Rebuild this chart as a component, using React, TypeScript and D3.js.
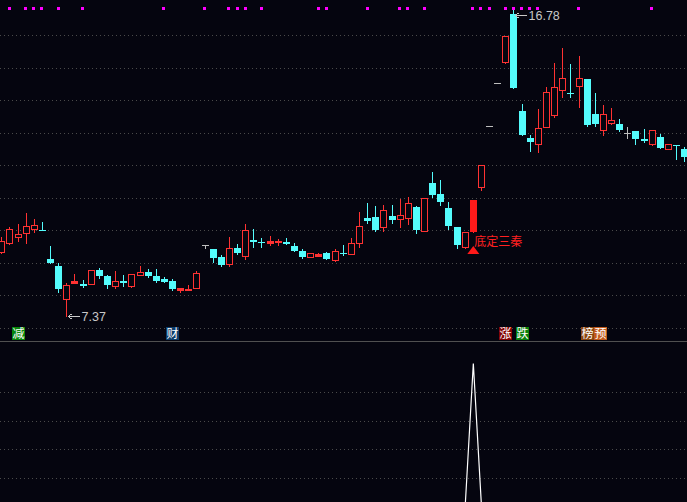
import React from "react";
import * as d3 from "d3";

// daily K-line (85 sessions)
const opens = [
  9.33, 9.6, 9.8, 9.91, 10.05, 10.01, 9.12, 8.9, 7.88, 8.39,
  8.35, 8.34, 8.78, 8.59, 8.3, 8.45, 8.3, 8.64, 8.71, 8.59,
  8.51, 8.44, 8.17, 8.19, 8.24, 9.54, 9.42, 9.17, 8.98, 9.45,
  9.22, 9.7, 9.65, 9.6, 9.67, 9.65, 9.53, 9.37, 9.19, 9.22,
  9.29, 9.1, 9.31, 9.26, 9.6, 10.38, 10.41, 10.11, 10.44, 10.36,
  10.39, 10.72, 9.99, 11.45, 11.12, 10.69, 10.1, 9.5, 9.99, 11.34,
  13.2, 14.52, 15.18, 16.64, 13.67, 12.85, 12.64, 13.16, 13.55, 14.3,
  14.22, 14.44, 14.65, 13.57, 13.07, 13.31, 13.27, 13.0, 13.06, 12.81,
  12.66, 12.88, 12.49, 12.62, 12.5,
];
const highs = [
  9.8, 10.11, 10.19, 10.53, 10.35, 10.26, 9.52, 8.99, 8.37, 8.66,
  8.47, 8.77, 8.84, 8.63, 8.75, 8.63, 8.65, 8.9, 8.81, 8.81,
  8.57, 8.51, 8.23, 8.32, 8.75, 9.54, 9.42, 9.24, 9.8, 9.58,
  10.19, 10.04, 9.76, 9.83, 9.74, 9.76, 9.6, 9.43, 9.29, 9.31,
  9.33, 9.43, 9.55, 9.76, 10.56, 10.84, 10.75, 10.78, 10.78, 10.96,
  11.02, 10.75, 10.98, 11.79, 11.55, 10.87, 10.1, 9.94, 10.93, 12.01,
  13.2, 14.52, 15.97, 16.78, 13.88, 12.93, 13.73, 14.39, 15.14, 15.6,
  15.11, 15.35, 14.65, 14.22, 13.85, 13.76, 13.42, 13.17, 13.06, 13.11,
  13.08, 12.95, 12.65, 12.62, 12.57,
];
const lows = [
  9.3, 9.57, 9.68, 9.62, 9.96, 10.0, 9.01, 8.11, 7.37, 8.39,
  8.27, 8.34, 8.55, 8.24, 8.24, 8.3, 8.26, 8.64, 8.56, 8.42,
  8.42, 8.17, 8.11, 8.19, 8.24, 9.46, 9.04, 8.9, 8.9, 9.28,
  9.13, 9.5, 9.5, 9.56, 9.56, 9.57, 9.37, 9.16, 9.19, 9.21,
  9.13, 9.07, 9.25, 9.26, 9.5, 10.22, 9.99, 9.99, 10.23, 10.11,
  10.2, 9.93, 9.99, 11.03, 10.79, 10.05, 9.47, 9.45, 9.96, 11.24,
  13.2, 14.52, 15.15, 14.38, 12.94, 12.45, 12.42, 13.16, 13.47, 14.09,
  14.09, 13.8, 13.21, 13.21, 12.94, 13.28, 13.05, 12.85, 12.66, 12.71,
  12.61, 12.53, 12.49, 12.2, 12.14,
];
const closes = [
  9.67, 10.03, 9.89, 10.12, 10.15, 10.0, 9.01, 8.2, 8.31, 8.44,
  8.3, 8.77, 8.61, 8.33, 8.43, 8.39, 8.65, 8.71, 8.6, 8.45,
  8.42, 8.2, 8.23, 8.2, 8.68, 9.54, 9.16, 8.94, 9.46, 9.31,
  10.0, 9.65, 9.64, 9.66, 9.68, 9.59, 9.37, 9.19, 9.29, 9.27,
  9.13, 9.37, 9.3, 9.6, 10.12, 10.3, 10.01, 10.62, 10.32, 10.46,
  10.83, 10.01, 10.98, 11.09, 10.87, 10.14, 9.55, 9.94, 10.93, 12.01,
  13.2, 14.52, 15.97, 14.38, 12.94, 12.72, 13.13, 14.24, 14.39, 14.67,
  14.21, 14.67, 13.24, 13.28, 13.57, 13.38, 13.08, 13.0, 12.81, 12.74,
  13.08, 12.53, 12.65, 12.61, 12.26,
];

// magenta marks along the top edge
const markDays = [1, 3, 4, 5, 7, 10, 20, 25, 28, 29, 30, 32, 39, 40, 45, 49, 50, 52, 58, 59, 60, 62, 63, 64, 65, 66, 71, 80];

// event tags at the bottom of the price panel
const tagDays = [2, 21, 62, 64, 72, 72];
const tagTexts = ["减", "财", "涨", "跌", "榜", "预"];

// buy signal
const signalDay = 58;
const signalText = "底定三秦";

// lower panel indicator
const signalLine = [
  0, 0, 0, 0, 0, 0, 0, 0, 0, 0,
  0, 0, 0, 0, 0, 0, 0, 0, 0, 0,
  0, 0, 0, 0, 0, 0, 0, 0, 0, 0,
  0, 0, 0, 0, 0, 0, 0, 0, 0, 0,
  0, 0, 0, 0, 0, 0, 0, 0, 0, 0,
  0, 0, 0, 0, 0, 0, 0, 0, 125, 0,
  0, 0, 0, 0, 0, 0, 0, 0, 0, 0,
  0, 0, 0, 0, 0, 0, 0, 0, 0, 0,
  0, 0, 0, 0, 0,
];

const W = 687;
const H = 502;
const BG = "#05050f";
const RED = "#ff3232";
const CYAN = "#54fcfc";
const GRAY = "#bdbdbd";
const GRID = "#4a4a4a";
const tagColors: Record<string, string> = {
  减: "#07860b",
  财: "#0c3c6a",
  涨: "#820404",
  跌: "#07800b",
  榜: "#8a4612",
  预: "#c25a1c",
};

const App: React.FC = () => {
  const n = closes.length;
  const x = d3.scaleLinear().domain([0, n - 1]).range([1.8, 684.7]);
  const y = d3.scaleLinear().domain([7, 16]).range([328, 35]);
  const yInd = d3.scaleLinear().domain([0, 100]).range([506, 392]);

  const priceGrid = d3.range(7, 17);
  const indGrid = [25, 50, 75, 100];

  const hiIdx = d3.maxIndex(highs);
  const loIdx = d3.minIndex(lows);

  const line = d3
    .line<number>()
    .x((_, i) => x(i))
    .y((d) => yInd(d));

  // every candle part is a whole-pixel rect so nothing gets blurred
  const candles = closes.map((c, i) => {
    const o = opens[i];
    const left = Math.round(x(i) - 3.5);
    const mid = left + 3;
    const yh = Math.round(y(highs[i]));
    const yl = Math.round(y(lows[i]));
    const yo = Math.round(y(o));
    const yc = Math.round(y(c));
    const wick = (col: string, a: number, b: number, k: string) =>
      b > a ? <rect key={k} x={mid} y={a} width={1} height={b - a} fill={col} /> : null;

    if (o === c) {
      return (
        <g key={i}>
          {wick(GRAY, yh, yl + 1, "w")}
          <rect x={left} y={yo} width={7} height={1} fill={GRAY} />
        </g>
      );
    }
    if (c > o) {
      const top = yc;
      const bot = Math.max(yo, yc + 1);
      if (i === signalDay || bot - top <= 2) {
        return (
          <g key={i}>
            {wick(RED, yh, yl + 1, "w")}
            <rect x={left} y={top} width={7} height={bot - top + 1} fill={i === signalDay ? "#ff1a1a" : RED} />
          </g>
        );
      }
      return (
        <g key={i}>
          {wick(RED, yh, top, "a")}
          {wick(RED, bot + 1, yl + 1, "b")}
          <rect x={left} y={top} width={7} height={bot - top + 1} fill={RED} />
          <rect x={left + 1} y={top + 1} width={5} height={bot - top - 1} fill={BG} />
        </g>
      );
    }
    const top = yo;
    const bot = Math.max(yc, yo + 1);
    return (
      <g key={i}>
        {wick(CYAN, yh, yl + 1, "w")}
        <rect x={left} y={top} width={7} height={bot - top} fill={CYAN} />
      </g>
    );
  });

  const priceNote = (i: number, v: number, minY: number) => {
    const tip = Math.round(x(i)) + 1.5;
    const ly = Math.max(Math.round(y(v)), minY) + 0.5;
    return (
      <g key={"note" + i} stroke="#c8c8c8" fill="none">
        <path d={`M${tip},${ly}H${tip + 11}M${tip + 3},${ly - 2.5}L${tip},${ly}L${tip + 3},${ly + 2.5}`} />
        <text
          x={tip + 13}
          y={ly + 4.5}
          fill="#c8c8c8"
          stroke="none"
          fontSize={12.5}
          fontFamily="'Liberation Sans', Arial, sans-serif"
        >
          {v.toFixed(2)}
        </text>
      </g>
    );
  };

  const sx = x(signalDay);
  const sy = Math.round(y(lows[signalDay])) + 14;

  const slotCount: Record<number, number> = {};

  return (
    <svg
      width={W}
      height={H}
      style={{ position: "fixed", left: 0, top: 0, display: "block", background: BG }}
      shapeRendering="crispEdges"
    >
      <rect width={W} height={H} fill={BG} />

      {priceGrid.map((p) => (
        <line key={"g" + p} x1={0} x2={W} y1={Math.round(y(p)) + 0.5} y2={Math.round(y(p)) + 0.5} stroke={GRID} strokeDasharray="1,3" />
      ))}
      {indGrid.map((v) => (
        <line key={"ig" + v} x1={0} x2={W} y1={Math.round(yInd(v)) + 0.5} y2={Math.round(yInd(v)) + 0.5} stroke={GRID} strokeDasharray="1,3" />
      ))}
      <rect x={0} y={341} width={W} height={1} fill="#505050" />

      {markDays.map((d) => (
        <rect key={"m" + d} x={Math.round(x(d)) - 2} y={7} width={3} height={3} fill="#ff00ff" />
      ))}

      {candles}

      {priceNote(hiIdx, highs[hiIdx], 15)}
      {priceNote(loIdx, lows[loIdx], 15)}

      <g>
        <path d={`M${sx},${sy}L${sx + 6},${sy + 8}L${sx - 6},${sy + 8}Z`} fill="#ff1a1a" shapeRendering="auto" />
        <text x={sx + 1} y={sy} fill="#ff2020" fontSize={12} fontFamily="'Noto Sans CJK SC', sans-serif">
          {signalText}
        </text>
      </g>

      {tagDays.map((d, k) => {
        const slot = slotCount[d] || 0;
        slotCount[d] = slot + 1;
        const left = Math.round(x(d) - 6.5) + slot * 13;
        const t = tagTexts[k];
        return (
          <g key={"t" + k}>
            <rect x={left} y={327} width={13} height={13} fill={tagColors[t]} />
            <text
              x={left + 6.5}
              y={338}
              textAnchor="middle"
              fill="#ffffff"
              fontSize={12}
              fontFamily="'Noto Sans CJK SC', sans-serif"
            >
              {t}
            </text>
          </g>
        );
      })}

      <clipPath id="lowerPanel">
        <rect x={0} y={342} width={W} height={H - 342} />
      </clipPath>
      <path d={line(signalLine) || ""} fill="none" stroke="#ffffff" strokeWidth={1.2} clipPath="url(#lowerPanel)" shapeRendering="auto" />
    </svg>
  );
};

export default App;
